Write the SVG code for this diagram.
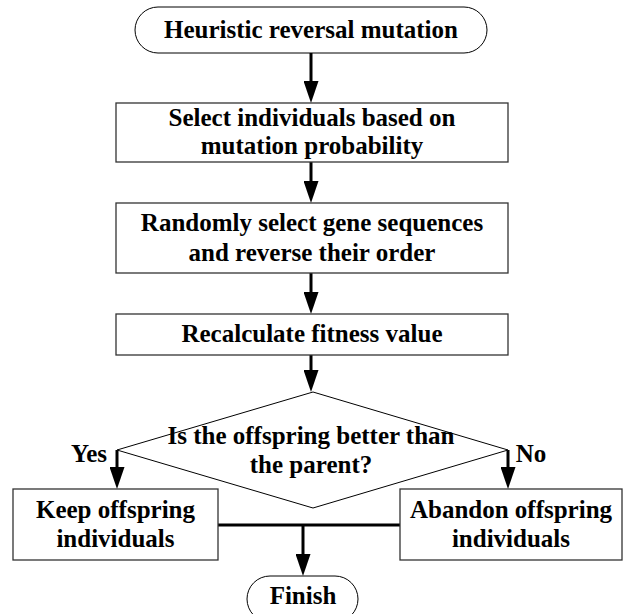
<svg xmlns="http://www.w3.org/2000/svg" width="633" height="614" viewBox="0 0 633 614">
<style>
.t{font-family:"Liberation Serif","Times New Roman",serif;font-weight:bold;font-size:25px;fill:#000;text-anchor:middle}
.box{fill:#fff;stroke:#333;stroke-width:1.3}
.term{fill:#fff;stroke:#000;stroke-width:1}
.dia{fill:#fff;stroke:#000;stroke-width:1}
.c{fill:none;stroke:#000;stroke-width:3}
</style>
<defs>
<marker id="ah" markerUnits="userSpaceOnUse" markerWidth="22" markerHeight="15" viewBox="0 0 22 15" refX="10" refY="7.5" orient="auto">
<path d="M0,0 L22,7.5 L0,15 z" fill="#000"/>
</marker>
</defs>
<rect width="633" height="614" fill="#fff"/>
<g id="connectors">
<line class="c" x1="311" y1="53" x2="311" y2="91" marker-end="url(#ah)"/>
<line class="c" x1="311" y1="162" x2="311" y2="191" marker-end="url(#ah)"/>
<line class="c" x1="311" y1="273" x2="311" y2="302" marker-end="url(#ah)"/>
<line class="c" x1="311" y1="355" x2="311" y2="380" marker-end="url(#ah)"/>
<line class="c" x1="117" y1="450" x2="117" y2="477" marker-end="url(#ah)"/>
<line class="c" x1="508" y1="450" x2="508" y2="477" marker-end="url(#ah)"/>
<line class="c" x1="218" y1="525" x2="400" y2="525"/>
<line class="c" x1="303" y1="525" x2="303" y2="564" marker-end="url(#ah)"/>
<text class="t" x="89" y="462">Yes</text>
<text class="t" x="531" y="462">No</text>
</g>
<g id="start">
<rect class="term" x="135" y="7" width="352" height="46" rx="23"/>
<text class="t" x="311" y="38">Heuristic reversal mutation</text>
</g>
<g id="select">
<rect class="box" x="116" y="103" width="392" height="59"/>
<text class="t" x="312" y="126">Select individuals based on</text>
<text class="t" x="312" y="154">mutation probability</text>
</g>
<g id="reverse">
<rect class="box" x="116" y="203" width="392" height="70"/>
<text class="t" x="312" y="231">Randomly select gene sequences</text>
<text class="t" x="312" y="261">and reverse their order</text>
</g>
<g id="recalc">
<rect class="box" x="116" y="314" width="392" height="41"/>
<text class="t" x="312" y="342">Recalculate fitness value</text>
</g>
<g id="decision">
<polygon class="dia" points="313,392 508,450 313,508 117,450"/>
<text class="t" x="311" y="444">Is the offspring better than</text>
<text class="t" x="311" y="473">the parent?</text>
</g>
<g id="keep">
<rect class="box" x="13" y="489" width="205" height="71"/>
<text class="t" x="115.5" y="518">Keep offspring</text>
<text class="t" x="115.5" y="547">individuals</text>
</g>
<g id="abandon">
<rect class="box" x="400" y="489" width="222" height="71"/>
<text class="t" x="511" y="518">Abandon offspring</text>
<text class="t" x="511" y="547">individuals</text>
</g>
<g id="finish">
<rect class="term" x="247" y="576" width="111" height="46" rx="23"/>
<text class="t" x="303" y="604">Finish</text>
</g>
</svg>
